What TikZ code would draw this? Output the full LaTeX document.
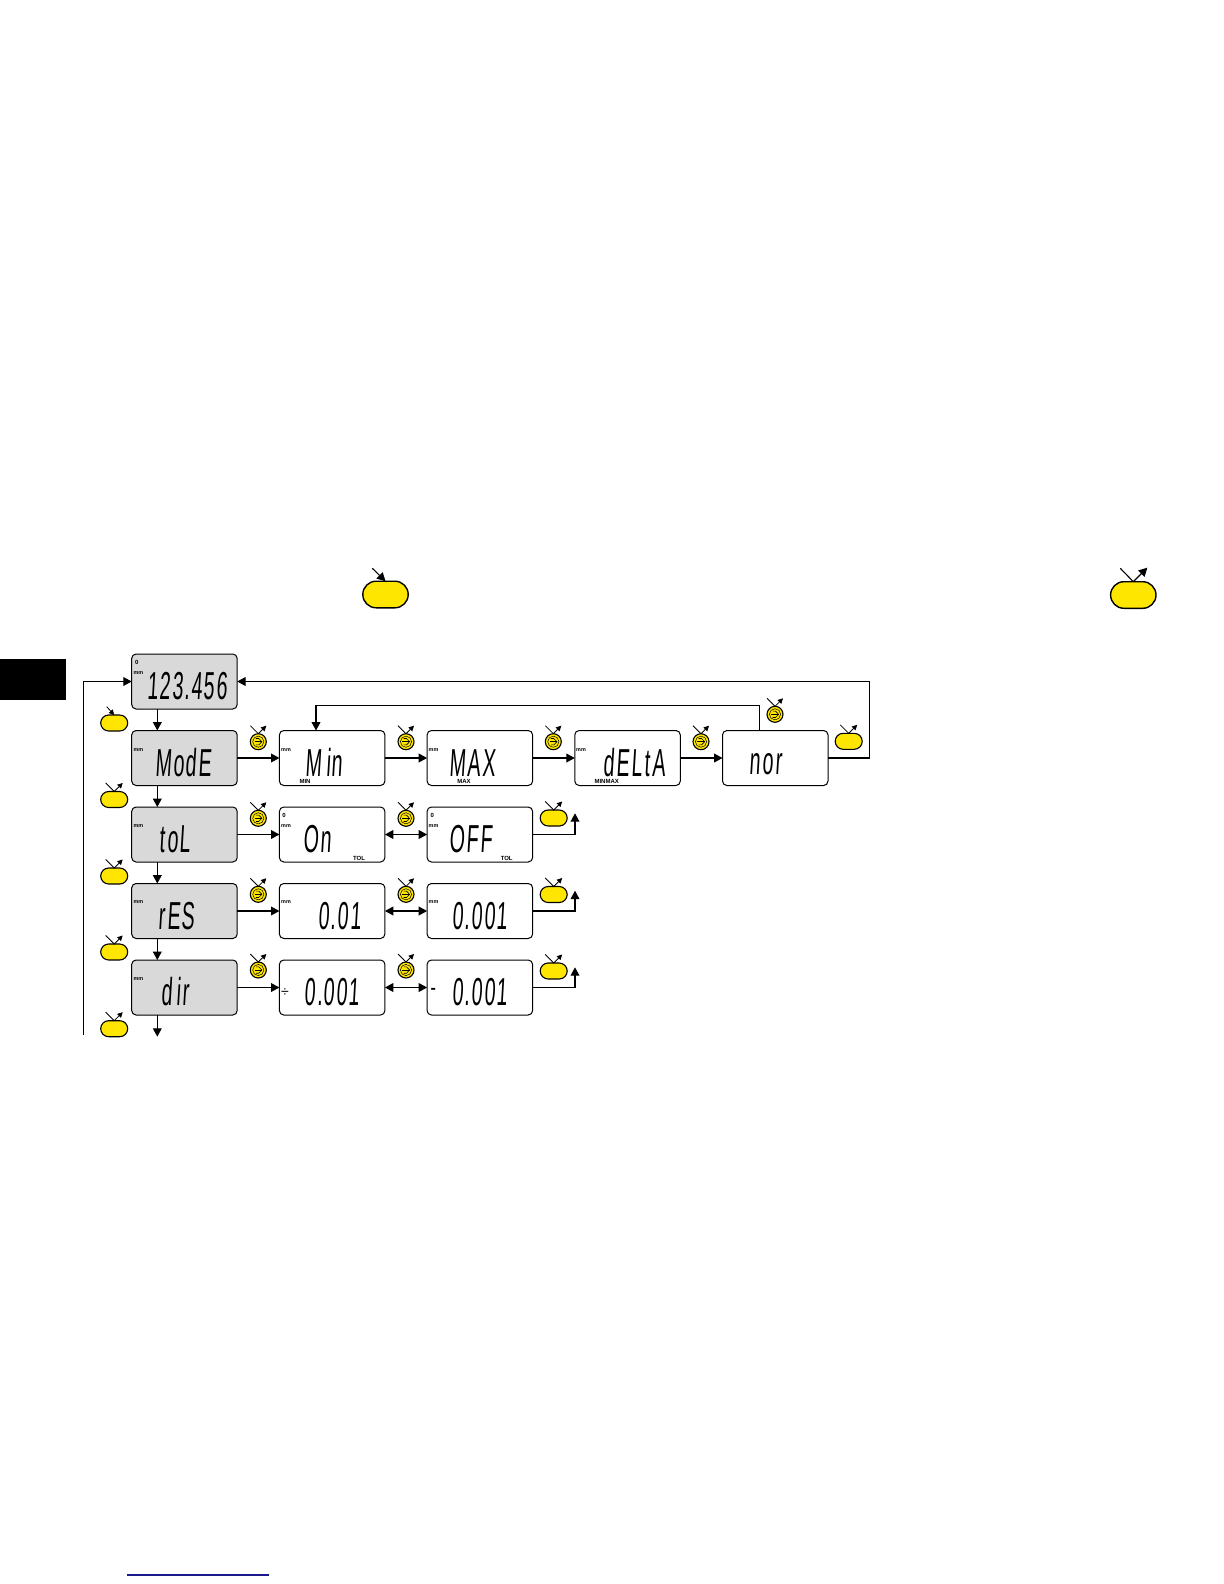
\documentclass[tikz,border=0pt]{standalone}
\usepackage{fontspec}
\setmainfont{Liberation Sans}
\newfontfamily\lcdfont[FakeStretch=0.5,FakeSlant=0.06,LetterSpace=4]{Liberation Sans}
\usepackage{xcolor}
\usepackage{tikz}
\usetikzlibrary{arrows.meta,positioning,shapes.misc,calc}
\definecolor{keyyellow}{HTML}{FFE600}
\definecolor{lcdgray}{HTML}{D9D9D9}
\definecolor{linkblue}{HTML}{1A1A8C}

% V mark over a key or wheel: #1 node, #2 size
\newcommand{\relmark}[2]{
  \draw[mark line] ($(#1.north)+(-#2,-#2)$) -- (#1.north) -- ($(#1.north)+(#2,-#2)$);
}
% wheel with its inner ring and arrow: #1 name, #2 position
\newcommand{\wheelkey}[2]{
  \node[wheel] (#1) at #2 {};
  \node[wheelring] (#1ring) at (#1) {};
  \draw[line width=.3pt] ($(#1)+(-3.6,0)$) -- ($(#1)+(3.6,0)$);
  \draw[line width=.3pt] ($(#1)+(-2.5,-3.2)$) -- ($(#1)+(.5,-3.2)$) -- ($(#1)+(3.6,0)$) -- ($(#1)+(.5,3.2)$) -- ($(#1)+(-2.5,3.2)$);
  \relmark{#1}{8}
}

\begin{document}
\begin{tikzpicture}[
  x=.5pt, y=-.5pt,
  panel/.style={draw, rounded corners=2.2pt, line width=.5pt, outer sep=0pt, inner sep=0pt, minimum width=52.75pt, minimum height=27.5pt},
  menu/.style={panel, fill=lcdgray},
  arr/.style={-{Triangle[length=4.2pt,width=4.4pt]}, line width=.55pt},
  dbl/.style={{Triangle[length=4.2pt,width=4.4pt]}-{Triangle[length=4.2pt,width=4.4pt]}, line width=.55pt},
  plain/.style={line width=.55pt},
  mark line/.style={-{Triangle[length=2.6pt,width=2.6pt]}, line width=.4pt},
  key/.style={draw, rounded rectangle, fill=keyyellow, line width=.55pt, outer sep=0pt, inner sep=0pt, minimum width=13.5pt, minimum height=8pt},
  bigkey/.style={key, line width=.7pt, minimum width=22.7pt, minimum height=13.3pt},
  wheel/.style={draw, circle, fill=keyyellow, line width=.55pt, outer sep=0pt, inner sep=0pt, minimum size=8pt},
  wheelring/.style={draw, circle, line width=.25pt, inner sep=0pt, minimum size=5.6pt},
  lcd/.style={anchor=base, inner sep=0pt, text depth=0pt, font=\lcdfont\fontsize{19.5}{20}\selectfont},
  unit/.style={inner sep=0pt, font=\bfseries\fontsize{2.7}{3}\selectfont},
  flag/.style={inner sep=0pt, font=\bfseries\fontsize{3}{3}\selectfont}
]
  \useasboundingbox (0,0) rectangle (1224,1584);
  \fill[black] (0,659) rectangle (66,700);

  % top keys
  \node[bigkey] (presskey) at (385.5,594.5) {};
  \coordinate (pressfrom) at (372.3,568.3);
  \draw[arr] (pressfrom) -- (presskey.north);
  \node[bigkey] (exitkey) at (1133.3,595) {};
  \draw[plain] ($(exitkey.north)+(-13,-13.4)$) -- (exitkey.north);
  \draw[arr] (exitkey.north) -- ++(14,-14);

  % displays
  \node[menu] at (184.45,681.5) (main) {};
  \node[menu, below=10.75pt of main] (mode) {};
  \node[menu, below=10.75pt of mode] (tol) {};
  \node[menu, below=10.75pt of tol] (res) {};
  \node[menu, below=10.75pt of res] (dir) {};
  \node[panel, right=21.1pt of mode] (min) {};
  \node[panel, right=21.1pt of min] (max) {};
  \node[panel, right=21.1pt of max] (delta) {};
  \node[panel, right=21.1pt of delta] (nor) {};
  \node[panel, right=21.1pt of tol] (on) {};
  \node[panel, right=21.1pt of on] (off) {};
  \node[panel, right=21.1pt of res] (fine) {};
  \node[panel, right=21.1pt of fine] (finer) {};
  \node[panel, right=21.1pt of dir] (plus) {};
  \node[panel, right=21.1pt of plus] (minus) {};

  % big digits
  \node[lcd, xshift=1.4pt, yshift=4.6pt] (maintxt) at (main.south) {123.456};
  \node[lcd, xshift=-.6pt, yshift=4.6pt] (modetxt) at (mode.south) {ModE};
  \node[lcd, xshift=-4.6pt, yshift=4.6pt] (toltxt) at (tol.south) {t\kern1pt o\kern1pt L};
  \node[lcd, xshift=-4pt, yshift=4.6pt] (restxt) at (res.south) {r\kern1pt E\kern.5pt S};
  \node[lcd, xshift=-4.5pt, yshift=4.6pt] (dirtxt) at (dir.south) {d\kern2pt i\kern1pt r};
  \node[lcd, xshift=-4pt, yshift=4.6pt] (mintxt) at (min.south) {M\kern2pt i\kern.5pt n};
  \node[lcd, xshift=-3.7pt, yshift=4.6pt] (maxtxt) at (max.south) {MAX};
  \node[lcd, xshift=3.5pt, yshift=4.6pt] (deltatxt) at (delta.south) {d\kern1pt E\kern1pt L\kern1pt t\kern1pt A};
  \node[lcd, xshift=-4.6pt, yshift=5.4pt] (nortxt) at (nor.south) {n\kern1pt o\kern1pt r};
  \node[lcd, xshift=-7.5pt, yshift=4.6pt] (ontxt) at (on.south) {On};
  \node[lcd, xshift=-4.5pt, yshift=4.6pt] (offtxt) at (off.south) {O\kern1pt F\kern1pt F};
  \node[lcd, xshift=3.7pt, yshift=4.6pt] (finetxt) at (fine.south) {0.01};
  \node[lcd, yshift=4.6pt] (finertxt) at (finer.south) {0.001};
  \node[lcd, yshift=4.6pt] (plustxt) at (plus.south) {0.001};
  \node[lcd, yshift=4.6pt] (minustxt) at (minus.south) {0.001};
  \node[inner sep=0pt, font=\fontsize{7}{7}\selectfont] (plussign) at (285,992.5) {÷};
  \node[inner sep=0pt, font=\bfseries\fontsize{8}{8}\selectfont] (minussign) at (433.3,991) {-};

  % small flags
  \node[unit] (mmmain) at (138.3,673.3) {mm};
  \node[unit] (mmmode) at (138.3,750) {mm};
  \node[unit] (mmtol) at (138.3,826.3) {mm};
  \node[unit] (mmres) at (138.3,902.5) {mm};
  \node[unit] (mmdir) at (138.3,979.3) {mm};
  \node[unit] (mmmin) at (286,750) {mm};
  \node[unit] (mmmax) at (433.5,750) {mm};
  \node[unit] (mmdelta) at (581,750) {mm};
  \node[unit] (mmon) at (286,826.3) {mm};
  \node[unit] (mmoff) at (433.5,826.3) {mm};
  \node[unit] (mmfine) at (286,902.5) {mm};
  \node[unit] (mmfiner) at (433.5,902.5) {mm};
  \node[flag] (holdmain) at (136.7,662.3) {0};
  \node[flag] (holdon) at (284,815) {0};
  \node[flag] (holdoff) at (432.3,815) {0};
  \node[flag] (flagmin) at (305,781.7) {MIN};
  \node[flag] (flagmax) at (464,781.7) {MAX};
  \node[flag] (flagdelta) at (606.7,781.7) {MINMAX};
  \node[flag] (flagon) at (359,858.3) {TOL};
  \node[flag] (flagoff) at (506.7,858.3) {TOL};

  % connectors
  \coordinate (downx) at (157.3,0);
  \draw[arr] (main.south -| downx) -- (mode.north -| downx);
  \draw[arr] (mode.south -| downx) -- (tol.north -| downx);
  \draw[arr] (tol.south -| downx) -- (res.north -| downx);
  \draw[arr] (res.south -| downx) -- (dir.north -| downx);
  \coordinate (dirout) at (157.3,1036.7);
  \draw[arr] (dir.south -| downx) -- (dirout);
  \coordinate (backfrom) at (83.7,1035);
  \draw[arr] (backfrom) |- (main.west);

  \draw[arr] (mode) -- (min);
  \draw[arr] (min) -- (max);
  \draw[arr] (max) -- (delta);
  \draw[arr] (delta) -- (nor);
  \draw[arr] (tol) -- (on);
  \draw[arr] (res) -- (fine);
  \draw[arr] (dir) -- (plus);
  \draw[dbl] (on) -- (off);
  \draw[dbl] (fine) -- (finer);
  \draw[dbl] (plus) -- (minus);

  \coordinate (looptop) at (759.7,705.3);
  \coordinate (loopleft) at (316,705.3);
  \draw[arr] (nor.north -| looptop) -- (looptop) -- (loopleft) -- (min.north -| loopleft);
  \coordinate (outerright) at (869.3,681.5);
  \draw[arr] (nor.east) -| (outerright) -- (main.east);

  \coordinate (offtip) at (575,813.3);
  \coordinate (finertip) at (575,890.7);
  \coordinate (minustip) at (575,967.3);
  \draw[arr] (off.east) -| (offtip);
  \draw[arr] (finer.east) -| (finertip);
  \draw[arr] (minus.east) -| (minustip);

  % keys
  \node[key] (keymain) at (114.2,723) {};
  \coordinate (keymainfrom) at (106.7,706.7);
  \draw[mark line] (keymainfrom) -- (keymain.north);
  \node[key] (keymode) at (114.2,799.5) {};
  \relmark{keymode}{8.5}
  \node[key] (keytol) at (114.2,876) {};
  \relmark{keytol}{8.5}
  \node[key] (keyres) at (114.2,952) {};
  \relmark{keyres}{8.5}
  \node[key] (keydir) at (114.2,1028.7) {};
  \relmark{keydir}{8.5}
  \node[key] (keynor) at (848.7,741.3) {};
  \relmark{keynor}{8.5}
  \node[key] (keyoff) at (553.7,818) {};
  \relmark{keyoff}{8.5}
  \node[key] (keyfiner) at (553.7,894.5) {};
  \relmark{keyfiner}{8.5}
  \node[key] (keyminus) at (553.7,971) {};
  \relmark{keyminus}{8.5}

  % wheels
  \wheelkey{wheelmode}{(258.3,741.7)}
  \wheelkey{wheelmin}{(406,741.7)}
  \wheelkey{wheelmax}{(553.3,741.7)}
  \wheelkey{wheeldelta}{(701,741.7)}
  \wheelkey{wheelnor}{(775,714.3)}
  \wheelkey{wheeltol}{(258.3,818.3)}
  \wheelkey{wheelon}{(406,818.3)}
  \wheelkey{wheelres}{(258.3,894.3)}
  \wheelkey{wheelfine}{(406,894.3)}
  \wheelkey{wheeldir}{(258.3,970)}
  \wheelkey{wheelplus}{(406,970)}

  \coordinate (linkfrom) at (127,1575);
  \coordinate (linkto) at (269,1575);
  \draw[linkblue, line width=.7pt] (linkfrom) -- (linkto);
\end{tikzpicture}
\end{document}
